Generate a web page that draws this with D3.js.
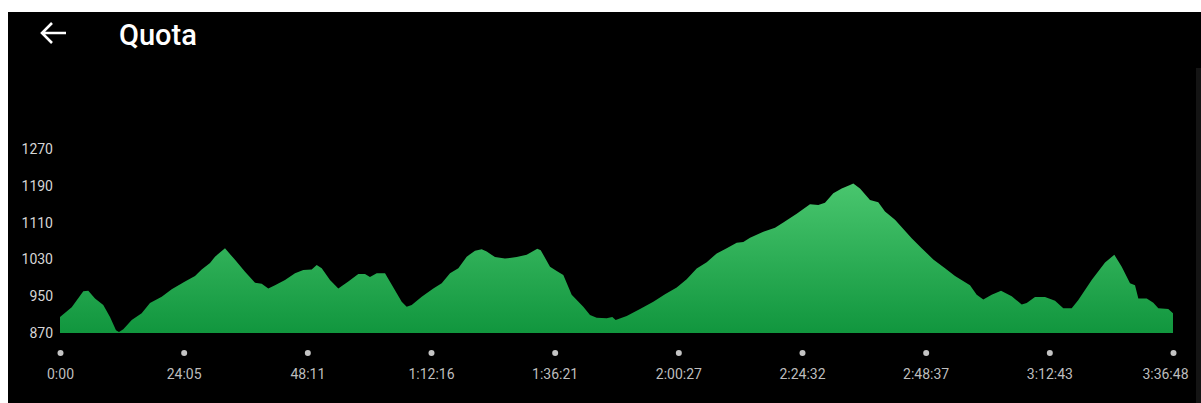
<!DOCTYPE html>
<html>
<head>
<meta charset="utf-8">
<script src="https://cdn.jsdelivr.net/npm/d3@7"></script>
<style>
  body { margin: 0; background: #fff; overflow: hidden; }
  svg { display: block; }
</style>
</head>
<body>
<div id="chart"></div>
<script>
// elapsed time in minutes and altitude (m)
let minutes = [0, 2.28, 4.54, 5.51, 6.82, 8.43, 9.74, 10.91, 11.49, 12.33, 13.97, 15.91, 17.53, 19.81, 21.76,
  24.35, 26.3, 27.6, 29.22, 30.19, 32.14, 34.09, 36.04, 37.99, 39.29, 40.57, 41.88, 43.83, 45.78, 47.39,
  49.03, 50.0, 50.98, 52.59, 54.21, 56.16, 58.11, 59.41, 60.38, 61.69, 63.31, 65.25, 66.56, 67.53, 68.51,
  70.46, 72.72, 74.35, 75.97, 77.59, 79.22, 80.84, 82.14, 83.12, 84.73, 86.68, 88.96, 90.91, 92.97, 93.64,
  95.45, 96.75, 98.04, 99.67, 101.93, 103.24, 104.54, 106.49, 107.58, 108.24, 110.39, 112.98, 115.57,
  117.85, 120.13, 122.07, 124.02, 125.97, 127.92, 129.87, 131.81, 133.1, 134.41, 137.0, 139.28, 140.89,
  143.5, 146.09, 147.71, 149.01, 150.63, 152.27, 153.88, 154.53, 155.83, 157.78, 159.39, 160.7, 162.65,
  165.9, 167.85, 170.11, 172.39, 174.34, 177.26, 178.56, 179.85, 181.48, 183.3, 185.38, 187.33, 188.3,
  189.92, 191.87, 193.82, 195.43, 197.07, 198.36, 200.96, 203.56, 205.37, 206.81, 208.43, 209.4, 210.05,
  211.68, 212.97, 213.94, 215.88, 216.8];
let altitude = [905, 926, 961, 962, 945, 931, 905, 876, 872, 878, 898, 913, 935, 949, 965,
  982, 994, 1008, 1022, 1036, 1054, 1029, 1003, 979, 977, 967, 974, 985, 1000, 1007,
  1008, 1018, 1011, 985, 967, 982, 998, 998, 992, 1000, 1000, 963, 938, 927, 931,
  949, 967, 978, 1000, 1011, 1036, 1049, 1052, 1047, 1035, 1032, 1035, 1040, 1053, 1050,
  1014, 1005, 996, 953, 927, 909, 903, 902, 905, 898, 907, 922, 938,
  954, 969, 987, 1010, 1024, 1043, 1054, 1066, 1068, 1077, 1090, 1099, 1110,
  1129, 1150, 1148, 1153, 1174, 1184, 1192, 1195, 1184, 1159, 1154, 1134, 1116,
  1076, 1054, 1030, 1011, 994, 974, 953, 943, 953, 962, 950, 932, 935,
  948, 948, 940, 924, 924, 942, 985, 1023, 1040, 1014, 978, 974, 945,
  945, 936, 924, 922, 913];

let yTicks = [870, 950, 1030, 1110, 1190, 1270];
let xTickLabels = ["0:00", "24:05", "48:11", "1:12:16", "1:36:21", "2:00:27", "2:24:32", "2:48:37", "3:12:43", "3:36:48"];
let totalMinutes = 216.8;

let w = 1201;
let h = 403;

let svg = d3
  .select("#chart")
  .append("svg")
  .attr("width", w)
  .attr("height", h);

// black app screen on white page
svg.append("rect")
  .attr("x", 8)
  .attr("y", 12)
  .attr("width", w - 8)
  .attr("height", h - 12)
  .attr("fill", "#000");
svg.append("rect")
  .attr("x", 1196)
  .attr("y", 68)
  .attr("width", 5)
  .attr("height", h - 68)
  .attr("fill", "#141414");

// header
svg.append("path")
  .attr("d", "M42,33 L66,33 M52,23 L42,33 L52,43")
  .attr("stroke", "#fff")
  .attr("stroke-width", 2.6)
  .attr("fill", "none");
svg.append("text")
  .text("Quota")
  .attr("x", 119)
  .attr("y", 45)
  .attr("font-family", "Roboto, sans-serif")
  .attr("font-weight", 500)
  .attr("font-size", 29)
  .attr("fill", "#fff");

let x = d3.scaleLinear().domain([0, totalMinutes]).range([60, 1173]);
let y = d3.scaleLinear().domain([870, 1270]).range([333, 149]);

let data = minutes.map(function(m, i) {
  return { t: m, v: altitude[i] };
});

let grad = svg.append("defs")
  .append("linearGradient")
  .attr("id", "fillGrad")
  .attr("gradientUnits", "userSpaceOnUse")
  .attr("x1", 0).attr("x2", 0)
  .attr("y1", y(1270)).attr("y2", y(870));
grad.append("stop").attr("offset", "0%").attr("stop-color", "#56d179");
grad.append("stop").attr("offset", "100%").attr("stop-color", "#11963e");

let area = d3.area()
  .x(function(d) { return x(d.t); })
  .y0(y(870))
  .y1(function(d) { return y(d.v); });

svg.append("path")
  .datum(data)
  .attr("d", area)
  .attr("fill", "url(#fillGrad)");

// y axis labels, no line
let yAxis = d3.axisLeft(y)
  .tickValues(yTicks)
  .tickSize(0)
  .tickPadding(0)
  .tickFormat(d3.format("d"));
let gy = svg.append("g")
  .attr("transform", "translate(53,0)")
  .call(yAxis);
gy.select(".domain").remove();
gy.selectAll("text")
  .attr("font-family", "Roboto, sans-serif")
  .attr("font-size", 14)
  .attr("fill", "#d6d6d6");

// x axis: dots and time labels
let xTickValues = xTickLabels.map(function(d, i) {
  return (i * totalMinutes) / (xTickLabels.length - 1);
});
let xAxis = d3.axisBottom(x)
  .tickValues(xTickValues)
  .tickSize(0)
  .tickPadding(0)
  .tickFormat(function(d, i) { return xTickLabels[i]; });
let gx = svg.append("g")
  .attr("transform", "translate(0,353)")
  .call(xAxis);
gx.select(".domain").remove();
gx.selectAll(".tick")
  .append("circle")
  .attr("r", 3)
  .attr("fill", "#c4c4c4");
gx.selectAll("text")
  .attr("y", 26)
  .attr("dy", 0)
  .attr("font-family", "Roboto, sans-serif")
  .attr("font-size", 14)
  .attr("fill", "#bdbdbd");
// last label is pushed inside the screen edge
gx.selectAll("text")
  .filter(function(d, i) { return i == xTickLabels.length - 1; })
  .attr("text-anchor", "end")
  .attr("x", 15);
</script>
</body>
</html>
